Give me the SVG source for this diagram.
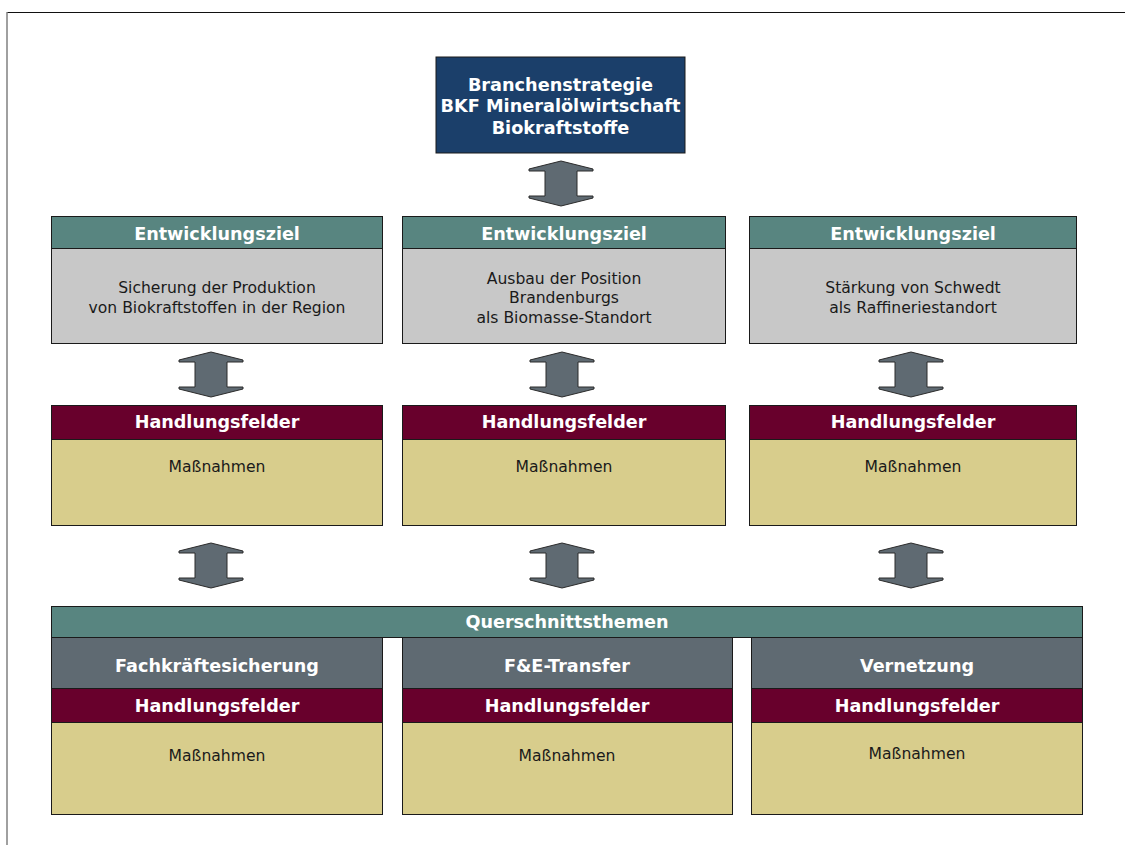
<svg xmlns="http://www.w3.org/2000/svg" width="1125" height="845" viewBox="0 0 1125 845">
<style>
.b{stroke:#1a1a1a;stroke-width:1}
.navy{fill:#1b3f6a}
.teal{fill:#588580}
.grey{fill:#c8c8c8}
.maroon{fill:#68002c}
.khaki{fill:#d8cd8c}
.slate{fill:#5f6a72}
.arr{fill:#5f6a72;stroke:#2a2a2a;stroke-width:1}
.hw{font-family:"DejaVu Sans",Verdana,sans-serif;font-weight:bold;font-size:17.6px;fill:#ffffff;text-anchor:middle}
.tt{font-family:"DejaVu Sans",Verdana,sans-serif;font-weight:bold;font-size:17.7px;fill:#ffffff;text-anchor:middle}
.bt{font-family:"DejaVu Sans",Verdana,sans-serif;font-size:15.6px;fill:#1a1a1a;text-anchor:middle}
</style>
<defs>
<path id="dblarrow" d="M0,0 L32,8 L32,10 L16,10 L16,35 L32,35 L32,37 L0,45 L-32,37 L-32,35 L-16,35 L-16,10 L-32,10 L-32,8 Z"/>
</defs>
<rect width="1125" height="845" fill="#ffffff"/>
<g id="frame">
<line x1="7" y1="12.5" x2="1125" y2="12.5" stroke="#111" stroke-width="1.2"/>
<line x1="7" y1="12" x2="7" y2="845" stroke="#808080" stroke-width="1.5"/>
</g>
<g id="top">
<rect class="navy b" x="436" y="57" width="249" height="96"/>
<text class="tt" x="560.5" y="91">Branchenstrategie</text>
<text class="tt" x="560.5" y="112">BKF Mineralölwirtschaft</text>
<text class="tt" x="560.5" y="134">Biokraftstoffe</text>
</g>
<g id="ziel1">
<rect class="teal b" x="51.5" y="216.5" width="331" height="32"/>
<rect class="grey b" x="51.5" y="248.5" width="331" height="95"/>
<text class="hw" x="217" y="240">Entwicklungsziel</text>
<text class="bt" x="217" y="293">Sicherung der Produktion</text>
<text class="bt" x="217" y="313">von Biokraftstoffen in der Region</text>
</g>
<g id="ziel2">
<rect class="teal b" x="402.5" y="216.5" width="323" height="32"/>
<rect class="grey b" x="402.5" y="248.5" width="323" height="95"/>
<text class="hw" x="564" y="240">Entwicklungsziel</text>
<text class="bt" x="564" y="284">Ausbau der Position</text>
<text class="bt" x="564" y="303">Brandenburgs</text>
<text class="bt" x="564" y="323">als Biomasse-Standort</text>
</g>
<g id="ziel3">
<rect class="teal b" x="749.5" y="216.5" width="327" height="32"/>
<rect class="grey b" x="749.5" y="248.5" width="327" height="95"/>
<text class="hw" x="913" y="240">Entwicklungsziel</text>
<text class="bt" x="913" y="293">Stärkung von Schwedt</text>
<text class="bt" x="913" y="313">als Raffineriestandort</text>
</g>
<g id="hf1">
<rect class="maroon b" x="51.5" y="405.5" width="331" height="34"/>
<rect class="khaki b" x="51.5" y="439.5" width="331" height="86"/>
<text class="hw" x="217" y="428">Handlungsfelder</text>
<text class="bt" x="217" y="472">Maßnahmen</text>
</g>
<g id="hf2">
<rect class="maroon b" x="402.5" y="405.5" width="323" height="34"/>
<rect class="khaki b" x="402.5" y="439.5" width="323" height="86"/>
<text class="hw" x="564" y="428">Handlungsfelder</text>
<text class="bt" x="564" y="472">Maßnahmen</text>
</g>
<g id="hf3">
<rect class="maroon b" x="749.5" y="405.5" width="327" height="34"/>
<rect class="khaki b" x="749.5" y="439.5" width="327" height="86"/>
<text class="hw" x="913" y="428">Handlungsfelder</text>
<text class="bt" x="913" y="472">Maßnahmen</text>
</g>
<g id="querschnitt">
<rect class="teal b" x="51.5" y="606.5" width="1031" height="31"/>
<text class="hw" x="567" y="628">Querschnittsthemen</text>
</g>
<g id="q1">
<rect class="slate b" x="51.5" y="637.5" width="331" height="51"/>
<rect class="maroon b" x="51.5" y="688.5" width="331" height="34"/>
<rect class="khaki b" x="51.5" y="722.5" width="331" height="92"/>
<text class="hw" x="217" y="672">Fachkräftesicherung</text>
<text class="hw" x="217" y="712">Handlungsfelder</text>
<text class="bt" x="217" y="761">Maßnahmen</text>
</g>
<g id="q2">
<rect class="slate b" x="402.5" y="637.5" width="330" height="51"/>
<rect class="maroon b" x="402.5" y="688.5" width="330" height="34"/>
<rect class="khaki b" x="402.5" y="722.5" width="330" height="92"/>
<text class="hw" x="567" y="672">F&amp;E-Transfer</text>
<text class="hw" x="567" y="712">Handlungsfelder</text>
<text class="bt" x="567" y="761">Maßnahmen</text>
</g>
<g id="q3">
<rect class="slate b" x="751.5" y="637.5" width="331" height="51"/>
<rect class="maroon b" x="751.5" y="688.5" width="331" height="34"/>
<rect class="khaki b" x="751.5" y="722.5" width="331" height="92"/>
<text class="hw" x="917" y="672">Vernetzung</text>
<text class="hw" x="917" y="712">Handlungsfelder</text>
<text class="bt" x="917" y="759">Maßnahmen</text>
</g>
<g id="connectors">
<use href="#dblarrow" class="arr" transform="translate(561,161)"/>
<use href="#dblarrow" class="arr" transform="translate(211,352)"/>
<use href="#dblarrow" class="arr" transform="translate(562,352)"/>
<use href="#dblarrow" class="arr" transform="translate(911,352)"/>
<use href="#dblarrow" class="arr" transform="translate(211,543)"/>
<use href="#dblarrow" class="arr" transform="translate(562,543)"/>
<use href="#dblarrow" class="arr" transform="translate(911,543)"/>
</g>
</svg>
